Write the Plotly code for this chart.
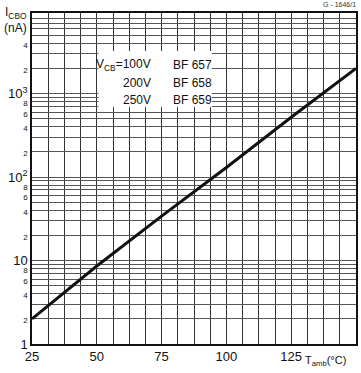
import plotly.graph_objects as go

# Data
temperature = [25, 50, 75, 100, 125, 150]          # T_amb (°C)
icbo_na = [2, 8.6, 34, 130, 520, 2000]             # I_CBO (nA)

x_tick_vals = [25 + 6.25 * i for i in range(21)]
x_tick_labels = {25: "25", 50: "50", 75: "75", 100: "100", 125: "125"}

y_decades = [1, 10, 100, 1000]
y_decade_labels = ["1", "10", "10<sup>2</sup>", "10<sup>3</sup>"]
y_minor_labelled = [2, 4, 6, 8]

legend_volts = ["V<sub>CB</sub>=100V", "200V", "250V"]
legend_types = ["BF 657", "BF 658", "BF 659"]

FONT = "Liberation Sans"

# y ticks
yvals, ytext = [], []
for d, lab in zip(y_decades, y_decade_labels):
    for m in range(1, 10):
        v = d * m
        yvals.append(v)
        if m == 1:
            ytext.append(lab)
        elif m in y_minor_labelled and not (d == 1000 and m in (6, 8)):
            ytext.append('<span style="font-size:8px">%d</span>' % m)
        else:
            ytext.append("")

xtext = [x_tick_labels.get(v, "") for v in x_tick_vals]

fig = go.Figure()
fig.add_trace(go.Scatter(x=temperature, y=icbo_na, mode="lines",
                         line=dict(color="#111", width=3), showlegend=False,
                         hoverinfo="skip"))

fig.update_xaxes(range=[25, 150], tickvals=x_tick_vals, ticktext=xtext,
                 showgrid=True, gridcolor="#333", gridwidth=1,
                 showline=True, linecolor="#111", linewidth=1.5, mirror=True,
                 zeroline=False, ticks="", tickfont=dict(size=13, color="#111"))
fig.update_yaxes(type="log", range=[0, 3.965], tickvals=yvals, ticktext=ytext,
                 showgrid=True, gridcolor="#555", gridwidth=1,
                 showline=True, linecolor="#111", linewidth=1.5, mirror=True,
                 zeroline=False, ticks="", tickfont=dict(size=13, color="#111"))

shapes = [dict(type="rect", xref="paper", yref="paper", x0=0.205, x1=0.555,
               y0=0.715, y1=0.885, fillcolor="white", line=dict(width=0),
               layer="above")]

ann = []
rows_y = [0.843, 0.789, 0.737]
for i in range(3):
    ann.append(dict(xref="paper", yref="paper", x=0.372, y=rows_y[i],
                    text=legend_volts[i], showarrow=False, xanchor="right",
                    yanchor="middle", font=dict(size=12, color="#111")))
    ann.append(dict(xref="paper", yref="paper", x=0.428, y=rows_y[i],
                    text=legend_types[i], showarrow=False, xanchor="left",
                    yanchor="middle", font=dict(size=12, color="#111")))

ann.append(dict(xref="paper", yref="paper", x=-0.088, y=1.0,
                text="I<sub>CBO</sub>", showarrow=False, xanchor="left",
                yanchor="middle", font=dict(size=12, color="#111")))
ann.append(dict(xref="paper", yref="paper", x=-0.092, y=0.955,
                text="(nA)", showarrow=False, xanchor="left",
                yanchor="middle", font=dict(size=12, color="#111")))
ann.append(dict(xref="paper", yref="paper", x=0.836, y=-0.052,
                text="T<sub>amb</sub>(°C)", showarrow=False, xanchor="left",
                yanchor="middle", font=dict(size=11, color="#111")))
ann.append(dict(xref="paper", yref="paper", x=1.005, y=1.025,
                text="G - 1646/1", showarrow=False, xanchor="right",
                yanchor="middle", font=dict(size=7, color="#333")))

fig.update_layout(width=361, height=373,
                  margin=dict(l=32, r=3, t=13, b=29),
                  paper_bgcolor="white", plot_bgcolor="white",
                  font=dict(family=FONT, color="#111"),
                  shapes=shapes, annotations=ann, showlegend=False)

fig.write_html("out.html", config={"displayModeBar": False},
               post_script="document.body.style.margin='0';document.body.style.overflow='hidden';")
